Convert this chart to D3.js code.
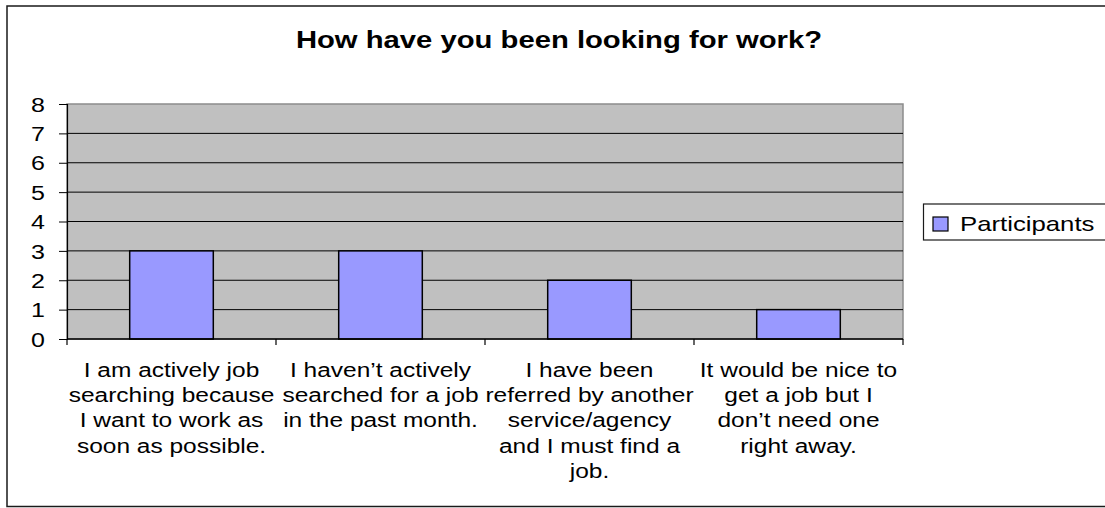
<!DOCTYPE html>
<html>
<head>
<meta charset="utf-8">
<script src="https://cdn.jsdelivr.net/npm/d3@7"></script>
<style>
  html, body { margin: 0; padding: 0; background: #fff; }
  svg { display: block; font-family: "Liberation Sans", Arial, sans-serif; }
</style>
</head>
<body>
<svg id="chart" width="1105" height="508"></svg>
<script>
// Survey answers and counts
const categories = [
  "I am actively job searching because I want to work as soon as possible.",
  "I haven\u2019t actively searched for a job in the past month.",
  "I have been referred by another service/agency and I must find a job.",
  "It would be nice to get a job but I don\u2019t need one right away."
];
const categoryLines = [
  ["I am actively job", "searching because", "I want to work as", "soon as possible."],
  ["I haven\u2019t actively", "searched for a job", "in the past month."],
  ["I have been", "referred by another", "service/agency", "and I must find a", "job."],
  ["It would be nice to", "get a job but I", "don\u2019t need one", "right away."]
];
const participants = [3, 3, 2, 1];
const yTicks = [0, 1, 2, 3, 4, 5, 6, 7, 8];
const seriesName = "Participants";
const chartTitle = "How have you been looking for work?";

// Text in this chart is drawn a little wider than the font's natural shape
const SX = 1.25;

const svg = d3.select("#chart");

// outer chart frame
svg.append("rect")
  .attr("x", 7).attr("y", 6)
  .attr("width", 1120).attr("height", 500.5)
  .attr("fill", "#fff").attr("stroke", "#1a1a1a").attr("stroke-width", 1.5);

const plot = { left: 67, top: 104, right: 903, bottom: 339 };

const x = d3.scaleBand()
  .domain(categories)
  .range([plot.left, plot.right])
  .paddingInner(0.6)
  .paddingOuter(0.3);

const y = d3.scaleLinear()
  .domain([0, 8])
  .range([plot.bottom, plot.top]);

// helper: wide text
function wideText(parent, tx, ty, str, opts) {
  const g = parent.append("g")
    .attr("transform", `translate(${tx},${ty}) scale(${SX},1)`);
  const t = g.append("text")
    .attr("text-anchor", opts.anchor || "middle")
    .attr("font-size", opts.size)
    .attr("font-weight", opts.weight || "normal")
    .attr("fill", "#000")
    .text(str);
  return t;
}

// title
wideText(svg, 559, 47.5, chartTitle, { size: 23.4, weight: "bold" });

// plot background
svg.append("rect")
  .attr("x", plot.left).attr("y", plot.top)
  .attr("width", plot.right - plot.left).attr("height", plot.bottom - plot.top)
  .attr("fill", "#c0c0c0")
  .attr("stroke", "#8c8c8c").attr("stroke-width", 1.5);

// gridlines
svg.append("g")
  .selectAll("line")
  .data(yTicks.filter(d => d > 0 && d < 8))
  .join("line")
  .attr("x1", plot.left).attr("x2", plot.right)
  .attr("y1", d => y(d)).attr("y2", d => y(d))
  .attr("stroke", "#000").attr("stroke-width", 1);

// bars
svg.append("g")
  .selectAll("rect")
  .data(participants)
  .join("rect")
  .attr("x", (d, i) => x(categories[i]))
  .attr("y", d => y(d))
  .attr("width", x.bandwidth())
  .attr("height", d => y(0) - y(d))
  .attr("fill", "#9999ff")
  .attr("stroke", "#000").attr("stroke-width", 1.5);

// y axis
const yAxis = d3.axisLeft(y)
  .tickValues(yTicks)
  .tickFormat(d3.format("d"))
  .tickSize(8)
  .tickPadding(21 / SX - 8);
const yg = svg.append("g")
  .attr("transform", `translate(${plot.left},0)`)
  .call(yAxis);
yg.select(".domain").attr("stroke", "#000").attr("stroke-width", 1.2);
yg.selectAll(".tick line").attr("stroke", "#000");
yg.selectAll(".tick text")
  .attr("font-size", 20)
  .attr("font-family", "Liberation Sans, Arial, sans-serif")
  .attr("fill", "#000")
  .attr("dy", "0.36em")
  .attr("transform", `scale(${SX},1)`)
  .attr("x", -(22) / SX);

// x axis line
svg.append("line")
  .attr("x1", plot.left).attr("x2", plot.right)
  .attr("y1", plot.bottom).attr("y2", plot.bottom)
  .attr("stroke", "#000").attr("stroke-width", 1.5);

// category boundary ticks
const boundaries = d3.range(categories.length + 1)
  .map(i => plot.left + i * x.step());
svg.append("g")
  .selectAll("line")
  .data(boundaries)
  .join("line")
  .attr("x1", d => d).attr("x2", d => d)
  .attr("y1", plot.bottom).attr("y2", plot.bottom + 6)
  .attr("stroke", "#000").attr("stroke-width", 1.2);

// category labels
categories.forEach((c, i) => {
  const cx = x(c) + x.bandwidth() / 2;
  categoryLines[i].forEach((line, j) => {
    wideText(svg, cx, 376.5 + j * 25.4, line, { size: 19.6 });
  });
});

// legend
const lg = svg.append("g");
lg.append("rect")
  .attr("x", 923.5).attr("y", 204)
  .attr("width", 200).attr("height", 36)
  .attr("fill", "#fff").attr("stroke", "#1a1a1a").attr("stroke-width", 1.2);
lg.append("rect")
  .attr("x", 933).attr("y", 217)
  .attr("width", 15).attr("height", 14)
  .attr("fill", "#9999ff").attr("stroke", "#000").attr("stroke-width", 1.2);
wideText(lg, 960, 231, seriesName, { size: 20.6, anchor: "start" });
</script>
</body>
</html>
